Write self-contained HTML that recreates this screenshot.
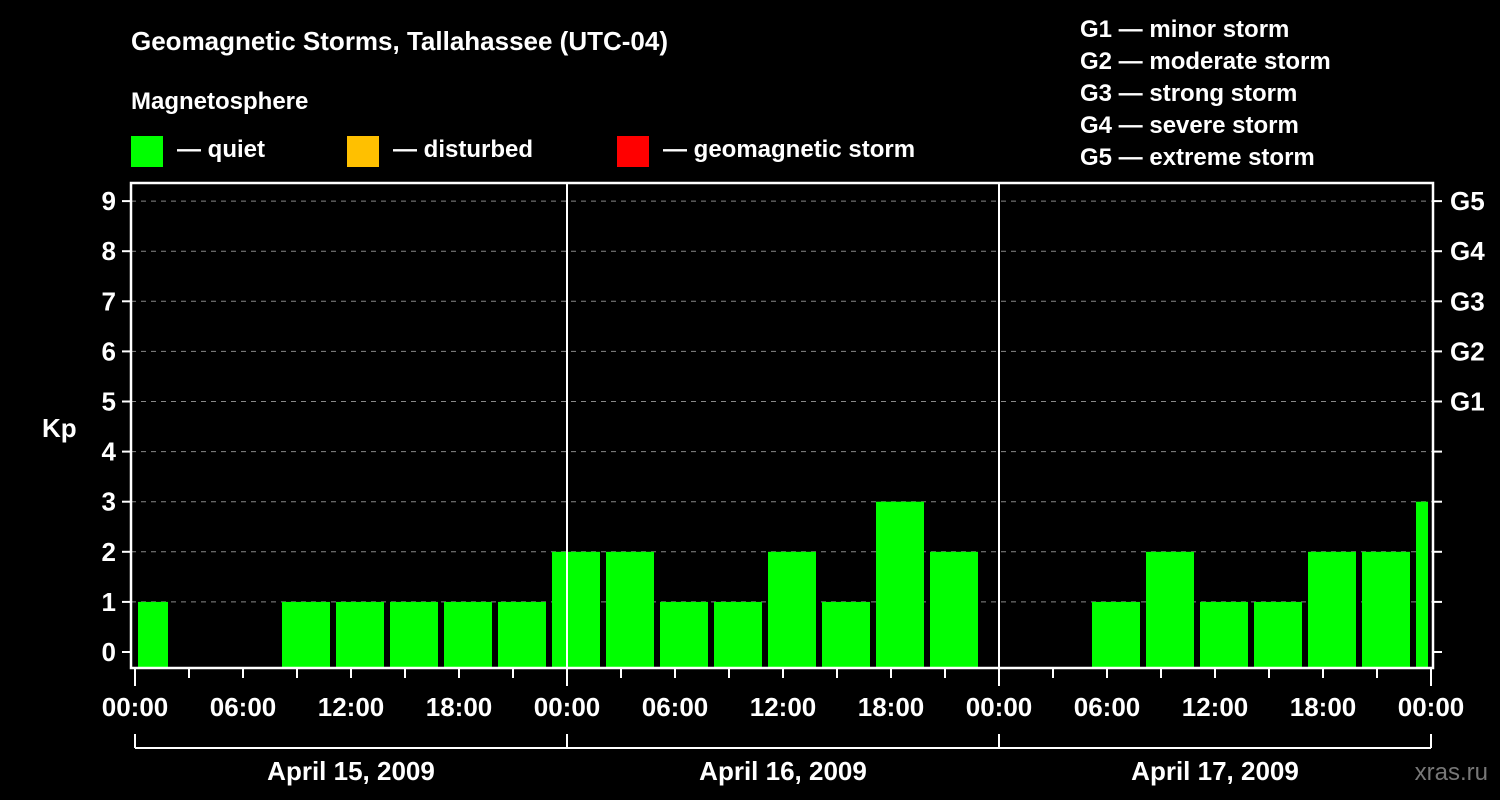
<!DOCTYPE html>
<html><head><meta charset="utf-8"><style>
html,body{margin:0;padding:0;background:#000;}
svg{display:block;font-family:"Liberation Sans",Arial,sans-serif;font-weight:bold;}
</style></head><body>
<svg id="chart" width="1500" height="800" viewBox="0 0 1500 800">
<rect width="1500" height="800" fill="#000"/>
<text x="131" y="50" fill="#fff" font-size="26">Geomagnetic Storms, Tallahassee (UTC-04)</text>
<text x="131" y="109" fill="#fff" font-size="24">Magnetosphere</text>
<g><rect x="131" y="136" width="32" height="31" fill="#00ff00"/><text x="177" y="157" fill="#fff" font-size="24">— quiet</text></g>
<g><rect x="347" y="136" width="32" height="31" fill="#ffc000"/><text x="393" y="157" fill="#fff" font-size="24">— disturbed</text></g>
<g><rect x="617" y="136" width="32" height="31" fill="#ff0000"/><text x="663" y="157" fill="#fff" font-size="24">— geomagnetic storm</text></g>
<g fill="#fff" font-size="24">
<text x="1080" y="37">G1 — minor storm</text>
<text x="1080" y="69">G2 — moderate storm</text>
<text x="1080" y="101">G3 — strong storm</text>
<text x="1080" y="133">G4 — severe storm</text>
<text x="1080" y="165">G5 — extreme storm</text>
</g>
<text x="42" y="437" fill="#fff" font-size="26">Kp</text>
<text x="1488" y="780" fill="#777" font-size="24" text-anchor="end" font-weight="normal">xras.ru</text>
<g id="plot"></g>
</svg>
<script>
const dayLabels = ["April 15, 2009","April 16, 2009","April 17, 2009"];
const kpTicks = [0,1,2,3,4,5,6,7,8,9];
const gLabels = ["G1","G2","G3","G4","G5"];
const hourLabels = ["00:00","06:00","12:00","18:00"];
// bars: 3-hour intervals starting at local hour -1 (23:00 Apr 14), null = no data
const kpValues = [1,null,null,1,1,1,1,1,2,2,1,1,2,1,3,2,null,null,1,2,1,1,2,2,3];
const barStartHour = -1;

const NS="http://www.w3.org/2000/svg";
const g=document.getElementById('plot');
const X0=135, PXH=18, L=131, R=1433, T=183, B=668;
const xs=h=>X0+h*PXH;
const ys=v=>652-v*50.1;
function el(t,a,p){const e=document.createElementNS(NS,t);for(const k in a)e.setAttribute(k,a[k]);(p||g).appendChild(e);return e;}

kpTicks.forEach(k=>{
  if(k>0){const l=el('line',{x1:L,x2:R,y1:ys(k),y2:ys(k),stroke:'#888','stroke-dasharray':'5,5','stroke-width':1});
  
  }
  const t=el('line',{x1:L-9,x2:L,y1:ys(k),y2:ys(k),stroke:'#fff','stroke-width':2});
  
  
  const t2=el('line',{x1:R,x2:R+9,y1:ys(k),y2:ys(k),stroke:'#fff','stroke-width':2});
  
  
  const tx=el('text',{x:116,y:ys(k)+9,fill:'#fff','font-size':26,'text-anchor':'end'});
  tx.textContent=k;
  
  
});
gLabels.forEach((s,i)=>{
  const tx=el('text',{x:1450,y:ys(5+i)+9,fill:'#fff','font-size':26});
  tx.textContent=s;
  
  
});
kpValues.forEach((v,i)=>{
  if(v===null)return;
  let h0=barStartHour+i*3, h1=h0+3;
  let a=Math.max(xs(h0),X0)+3, b=Math.min(xs(h1),xs(72))-3;
  const r=el('rect',{x:a,y:ys(v),width:b-a,height:B-1-ys(v),fill:'#00ff00'});
  
  
});
[1,2].forEach(d=>{
  const l=el('line',{x1:xs(d*24),x2:xs(d*24),y1:T,y2:B,stroke:'#fff','stroke-width':2});
  
  
});
const fr=el('rect',{x:L,y:T,width:R-L,height:B-T,fill:'none',stroke:'#fff','stroke-width':2.5});


for(let h=0;h<=72;h+=3){
  const major=h%24===0;
  const l=el('line',{x1:xs(h),x2:xs(h),y1:B,y2:B+(major?18:10),stroke:'#fff','stroke-width':2});
  
  
  if(h%6===0){
    const tx=el('text',{x:xs(h),y:716,fill:'#fff','font-size':26,'text-anchor':'middle'});
    tx.textContent=hourLabels[(h%24)/6];
    
    
  }
}
const br=el('line',{x1:xs(0),x2:xs(72),y1:748,y2:748,stroke:'#fff','stroke-width':2});


for(let d=0;d<=3;d++){
  const l=el('line',{x1:xs(d*24),x2:xs(d*24),y1:734,y2:748,stroke:'#fff','stroke-width':2});
  
  
}
dayLabels.forEach((s,d)=>{
  const tx=el('text',{x:xs(d*24+12),y:780,fill:'#fff','font-size':26,'text-anchor':'middle'});
  tx.textContent=s;
  
  
});
</script>
</body></html>
